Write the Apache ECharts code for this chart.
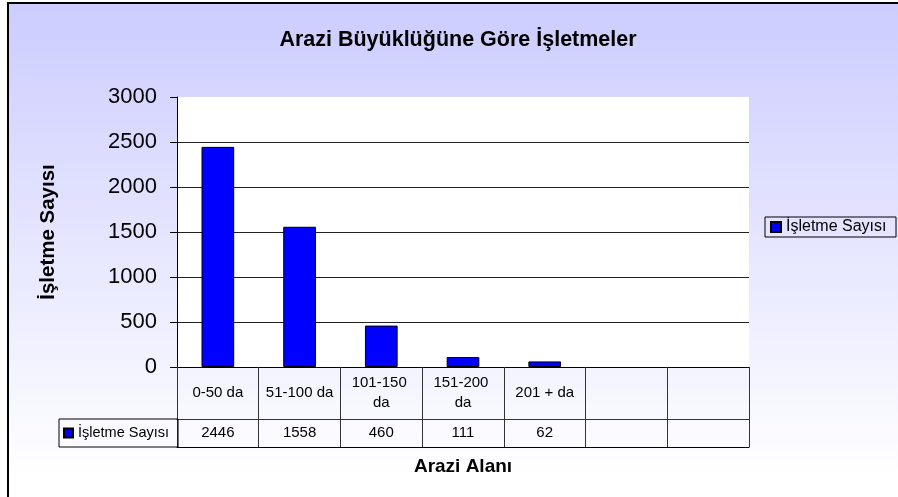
<!DOCTYPE html>
<html>
<head>
<meta charset="utf-8">
<script src="https://cdn.jsdelivr.net/npm/echarts@6/dist/echarts.min.js"></script>
<style>
  html, body { margin: 0; padding: 0; background: #fff; }
  #chart { width: 898px; height: 497px; }
</style>
</head>
<body>
<div id="chart"></div>
<script>
// Farm counts by land size (da = dekar); the two trailing blank columns are empty table cells
const categories = ['0-50 da', '51-100 da', '101-150 da', '151-200 da', '201 + da', '', ''];
const values = [2446, 1558, 460, 111, 62];
const seriesName = 'İşletme Sayısı';
const yMin = 0, yMax = 3000, yStep = 500;

const FONT = '"Liberation Sans", Arial, sans-serif';
const chart = echarts.init(document.getElementById('chart'), null, { renderer: 'canvas' });

chart.setOption({
  backgroundColor: '#ffffff',
  animation: false,
  textStyle: { fontFamily: FONT, color: '#000' },
  graphic: [{
    // framed chart area with the lavender-to-white fill
    type: 'rect',
    z: -100,
    silent: true,
    shape: { x: 8, y: 3, width: 900, height: 510 },
    style: {
      fill: {
        type: 'linear', x: 0, y: 0, x2: 0, y2: 1,
        colorStops: [
          { offset: 0, color: '#ccccff' },
          { offset: 0.93, color: '#ffffff' },
          { offset: 1, color: '#ffffff' }
        ]
      },
      stroke: '#000',
      lineWidth: 2
    }
  }],
  title: {
    text: 'Arazi Büyüklüğüne Göre İşletmeler',
    left: 453,
    textAlign: 'center',
    top: 24,
    textStyle: { fontFamily: FONT, fontSize: 21.5, fontWeight: 'bold', color: '#000' }
  },
  legend: [{
    // legend box on the right
    left: 765,
    top: 217,
    orient: 'vertical',
    padding: [1, 2, 1, 5],
    borderColor: '#000',
    borderWidth: 1,
    itemWidth: 10,
    itemHeight: 10,
    icon: 'rect',
    data: [seriesName],
    textStyle: { fontFamily: FONT, fontSize: 16, color: '#000', width: 108, lineHeight: 18, overflow: 'none' }
  }, {
    // legend key cell in the data table
    left: 59,
    top: 419,
    orient: 'vertical',
    padding: [5, 9, 5, 4],
    borderColor: '#000',
    borderWidth: 1,
    itemWidth: 9,
    itemHeight: 9,
    icon: 'rect',
    data: [seriesName],
    textStyle: { fontFamily: FONT, fontSize: 14.5, color: '#000', width: 90, lineHeight: 18, overflow: 'none' }
  }],
  grid: {
    left: 177, right: 149, top: 97, bottom: 130,
    show: true,
    backgroundColor: '#ffffff',
    borderWidth: 0
  },
  xAxis: [{
    // category row of the data table
    type: 'category',
    data: categories,
    position: 'bottom',
    axisLine: { show: true, lineStyle: { color: '#000', width: 1 } },
    axisTick: { show: true, interval: 0, length: 52, lineStyle: { color: '#333' } },
    axisLabel: {
      interval: 0,
      margin: 26,
      verticalAlign: 'middle',
      width: 72,
      overflow: 'break',
      lineHeight: 20,
      fontFamily: FONT,
      fontSize: 15,
      color: '#000'
    },
    splitLine: { show: false }
  }, {
    // value row of the data table
    type: 'category',
    data: categories,
    position: 'bottom',
    offset: 52,
    axisLine: { show: true, lineStyle: { color: '#333', width: 1 } },
    axisTick: { show: true, interval: 0, length: 28, lineStyle: { color: '#333' } },
    axisLabel: {
      interval: 0,
      margin: 14,
      verticalAlign: 'middle',
      fontFamily: FONT,
      fontSize: 15,
      color: '#000',
      formatter: (v, i) => (values[i] !== undefined ? String(values[i]) : '')
    },
    splitLine: { show: false }
  }, {
    // bottom edge of the table and the axis title
    type: 'category',
    data: categories,
    position: 'bottom',
    offset: 80,
    name: 'Arazi Alanı',
    nameLocation: 'middle',
    nameGap: 10,
    nameTextStyle: { fontFamily: FONT, fontSize: 19, fontWeight: 'bold', color: '#000', verticalAlign: 'top' },
    axisLine: { show: true, lineStyle: { color: '#000', width: 1 } },
    axisTick: { show: false },
    axisLabel: { show: false },
    splitLine: { show: false }
  }],
  yAxis: {
    type: 'value',
    min: yMin,
    max: yMax,
    interval: yStep,
    name: seriesName,
    nameLocation: 'middle',
    nameRotate: 90,
    nameGap: 118,
    nameTextStyle: { fontFamily: FONT, fontSize: 20.5, fontWeight: 'bold', color: '#000' },
    axisLine: { show: true, lineStyle: { color: '#000', width: 1 } },
    axisTick: { show: true, inside: false, length: 7, lineStyle: { color: '#000' } },
    axisLabel: { margin: 20, fontFamily: FONT, fontSize: 22, color: '#000', formatter: (v) => String(v) },
    splitLine: { show: true, showMaxLine: false, lineStyle: { color: '#222', width: 1 } }
  },
  series: [{
    name: seriesName,
    type: 'bar',
    xAxisIndex: 0,
    data: values,
    barCategoryGap: '60%',
    itemStyle: { color: '#0000ff', borderColor: '#000', borderWidth: 1 }
  }]
});
</script>
</body>
</html>
